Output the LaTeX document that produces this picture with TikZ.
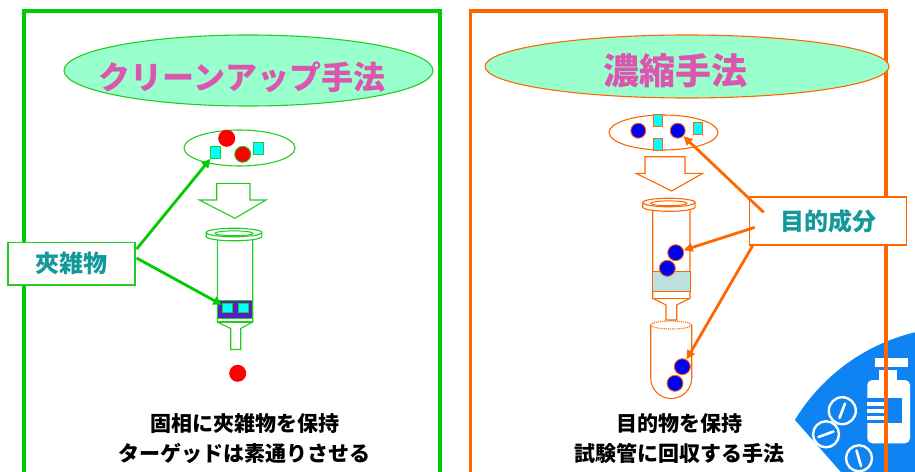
\documentclass[tikz,border=0pt]{standalone}
\usepackage{fontspec}
\newfontfamily\jp{Noto Sans CJK JP}
\usetikzlibrary{arrows.meta,calc,shapes.geometric}
\definecolor{fgreen}{HTML}{00CC00}
\definecolor{sgreen}{HTML}{22CC22}
\definecolor{forange}{HTML}{FF6600}
\definecolor{mint}{HTML}{99FFCC}
\definecolor{titlepink}{HTML}{DB56AE}
\definecolor{labelteal}{HTML}{139999}
\definecolor{cyanbox}{HTML}{00FFFF}
\definecolor{ballblue}{HTML}{0000F0}
\definecolor{ballred}{HTML}{FF0000}
\definecolor{packviolet}{HTML}{5222C4}
\definecolor{packpale}{HTML}{BCDFE0}
\definecolor{iconblue}{HTML}{0D84F2}
\begin{document}
\begin{tikzpicture}[x=1pt,y=-1pt,
  frame/.style={line width=3.5pt},
  outline/.style={line width=1.1pt, fill=white},
  redball/.style={circle, fill=ballred, inner sep=0pt, minimum size=#1},
  blueball/.style={circle, fill=ballblue, draw=forange, line width=0.9pt, inner sep=0pt, minimum size=#1},
  cubeg/.style={rectangle, fill=cyanbox, draw=sgreen, line width=0.9pt, inner sep=0pt},
  cubeo/.style={rectangle, fill=cyanbox, draw=forange, line width=0.9pt, inner sep=0pt, minimum width=9pt, minimum height=12pt},
  titletext/.style={font=\jp\bfseries, text=titlepink},
  tagbox/.style={rectangle, fill=white, line width=1.2pt, inner sep=0pt, font=\jp\bfseries\fontsize{24}{24}\selectfont, text=labelteal},
  caption/.style={font=\jp\bfseries\fontsize{21}{30}\selectfont, align=center, text=black},
  pointer/.style={line width=2.8pt, -{Triangle[length=9pt,width=8.5pt]}},
  pill/.style={draw=white, line width=2.4pt, fill=iconblue},
  score/.style={draw=white, line width=2.6pt, line cap=round}]
\useasboundingbox (0,0) rectangle (915,471);

% ---------- corner badge: medicine bottle and tablets ----------
\begin{scope}
  \clip (795,420) -- (848,480) -- (1000,480) -- (1000,300) -- (795,300) -- cycle;
  \fill[iconblue] (960,520) circle[radius=193pt];
\end{scope}
\path[pill] (842.3,410.7) circle[radius=13.5pt];
\path[score] (839.5,418) -- (845,403.5);
\path[pill] (826,434.3) circle[radius=13pt];
\path[score] (818.5,437) -- (833.5,431.5);
\path[pill] (859,458.3) circle[radius=13pt];
\path[score] (856.5,450.5) -- (861,466);
\fill[white] (875,358.3) rectangle (908.3,367.3);
\fill[white] (879,370) rectangle (897,384);
\fill[white, rounded corners=5pt] (867.3,380) rectangle (910,443.3);
\fill[iconblue] (867.3,398) rectangle (902,423);
\fill[white] (867.3,402) rectangle (884,405.5);
\fill[white] (867.3,409) rectangle (884,412.5);
\fill[white] (867.3,416) rectangle (884,419.5);

% ---------- panel frames ----------
\draw[frame, fgreen] (24,480) -- (24,11) -- (440,11) -- (440,480);
\draw[frame, forange] (470.5,480) -- (470.5,11) -- (886,11) -- (886,480);

% ---------- left panel: clean-up method ----------
\node[ellipse, draw=sgreen, fill=mint, line width=1.1pt, minimum width=369pt, minimum height=71pt, inner sep=0pt] (ttlA) at (248.5,70.5) {};
\node[titletext, font=\jp\bfseries\fontsize{32}{32}\selectfont] (ttlAtext) at (242,77) {クリーンアップ手法};

\node[ellipse, draw=sgreen, line width=1.1pt, minimum width=111pt, minimum height=36pt, inner sep=0pt] (mixA) at (239.5,148) {};
\node[redball=17pt] (lred1) at (226.7,138.3) {};
\node[redball=16pt, draw=sgreen, line width=0.9pt] (lred2) at (242.7,154.3) {};
\node[cubeg, minimum width=10pt, minimum height=12pt] (lsq1) at (215.7,152.3) {};
\node[cubeg, minimum width=10pt, minimum height=12pt] (lsq2) at (258.3,148) {};

\draw[outline, draw=sgreen] (216.7,183.3) -- (250,183.3) -- (250,200) -- (266,200) -- (235,218.3) -- (199.3,200) -- (216.7,200) -- cycle;

% cartridge
\draw[outline, draw=sgreen] (217.3,240) -- (217.3,322) -- (230.7,328.5) -- (230.7,349.5) -- (240.7,349.5) -- (240.7,328.5) -- (252.7,322) -- (252.7,240);
\draw[sgreen, line width=1.1pt] (217.3,322) -- (252.7,322);
\draw[outline, draw=sgreen] (206.2,232.5) -- (206.2,236.5) arc[start angle=180, end angle=360, x radius=27.8pt, y radius=4.3pt] -- (261.8,232.5);
\draw[outline, draw=sgreen] (234,232.5) ellipse[x radius=27.8pt, y radius=4.3pt];
\draw[sgreen, line width=1pt] (234,233.3) ellipse[x radius=19pt, y radius=2.4pt];
\node[rectangle, fill=packviolet, draw=sgreen, line width=1pt, minimum width=35.4pt, minimum height=18.3pt, inner sep=0pt] (bedA) at (235,309.2) {};
\node[cubeg, minimum size=9.5pt] (lsq3) at (227.3,307.7) {};
\node[cubeg, minimum size=9.5pt] (lsq4) at (243.3,307.7) {};
\node[redball=17pt] (lred3) at (237.7,373.3) {};

\node[tagbox, draw=sgreen, minimum width=127pt, minimum height=42.3pt] (impurity) at (71.5,263.8) {夾雑物};
\draw[pointer, fgreen] ($(impurity.north east)+(1,7)$) -- (lsq1);
\draw[pointer, fgreen] ($(impurity.north east)+(1,16)$) -- (lsq3);

\node[caption] (capA) at (244.5,439) {固相に夾雑物を保持\\ターゲッドは素通りさせる};

% ---------- right panel: concentration method ----------
\node[ellipse, draw=forange, fill=mint, line width=1.1pt, minimum width=404pt, minimum height=63pt, inner sep=0pt] (ttlB) at (687,66.5) {};
\node[titletext, font=\jp\bfseries\fontsize{36}{36}\selectfont] (ttlBtext) at (675,71) {濃縮手法};

\node[ellipse, draw=forange, line width=1.1pt, minimum width=109pt, minimum height=35pt, inner sep=0pt] (mixB) at (663.5,132.5) {};
\node[blueball=15pt] (rb1) at (638.3,130.7) {};
\node[blueball=15pt] (rb2) at (677.7,130.7) {};
\node[cubeo] (rsq1) at (658.3,120) {};
\node[cubeo] (rsq2) at (658.3,144.3) {};
\node[cubeo] (rsq3) at (698.3,128.3) {};

\draw[outline, draw=forange] (645,156.7) -- (685,156.7) -- (685,173.3) -- (702.7,173.3) -- (671.7,191) -- (636,173.3) -- (645,173.3) -- cycle;

% cartridge
\draw[outline, draw=forange] (652.7,210) -- (652.7,298.3) -- (666,305) -- (666,320) -- (676.7,320) -- (676.7,305) -- (690,298.3) -- (690,210);
\draw[forange, line width=1.1pt] (652.7,298.3) -- (690,298.3);
\draw[outline, draw=forange] (642.7,202.5) -- (642.7,207) arc[start angle=180, end angle=360, x radius=26.2pt, y radius=4.3pt] -- (695.2,202.5);
\draw[outline, draw=forange] (668.9,202.5) ellipse[x radius=26.2pt, y radius=4.3pt];
\draw[forange, line width=1pt] (668.9,203.3) ellipse[x radius=18pt, y radius=2.4pt];
\node[rectangle, fill=packpale, draw=forange, line width=1pt, minimum width=37.3pt, minimum height=20pt, inner sep=0pt] (bedB) at (671.35,281.7) {};
\node[blueball=16pt] (rb3) at (675.7,252.7) {};
\node[blueball=16pt] (rb4) at (667.3,268.3) {};

% collection tube
\draw[forange, line width=1.1pt] (650.7,325) -- (650.7,378) arc[start angle=180, end angle=360, radius=20.5pt] -- (691.7,325);
\draw[forange, line width=1.1pt, densely dotted] (671.2,325) ellipse[x radius=20.5pt, y radius=4pt];
\node[blueball=16pt] (rb5) at (682.3,366.7) {};
\node[blueball=16pt] (rb6) at (675,383.3) {};

\node[tagbox, draw=forange, minimum width=157.4pt, minimum height=48pt] (target) at (828,221) {目的成分};
\draw[pointer, forange] ($(target.north west)+(15,16)$) -- (rb2);
\draw[pointer, forange] ($(target.north west)+(6,31)$) -- (rb3);
\draw[pointer, forange] ($(target.south west)+(4,0)$) -- (rb5);

\node[caption] (capB) at (679,439) {目的物を保持\\試験管に回収する手法};
\end{tikzpicture}
\end{document}
